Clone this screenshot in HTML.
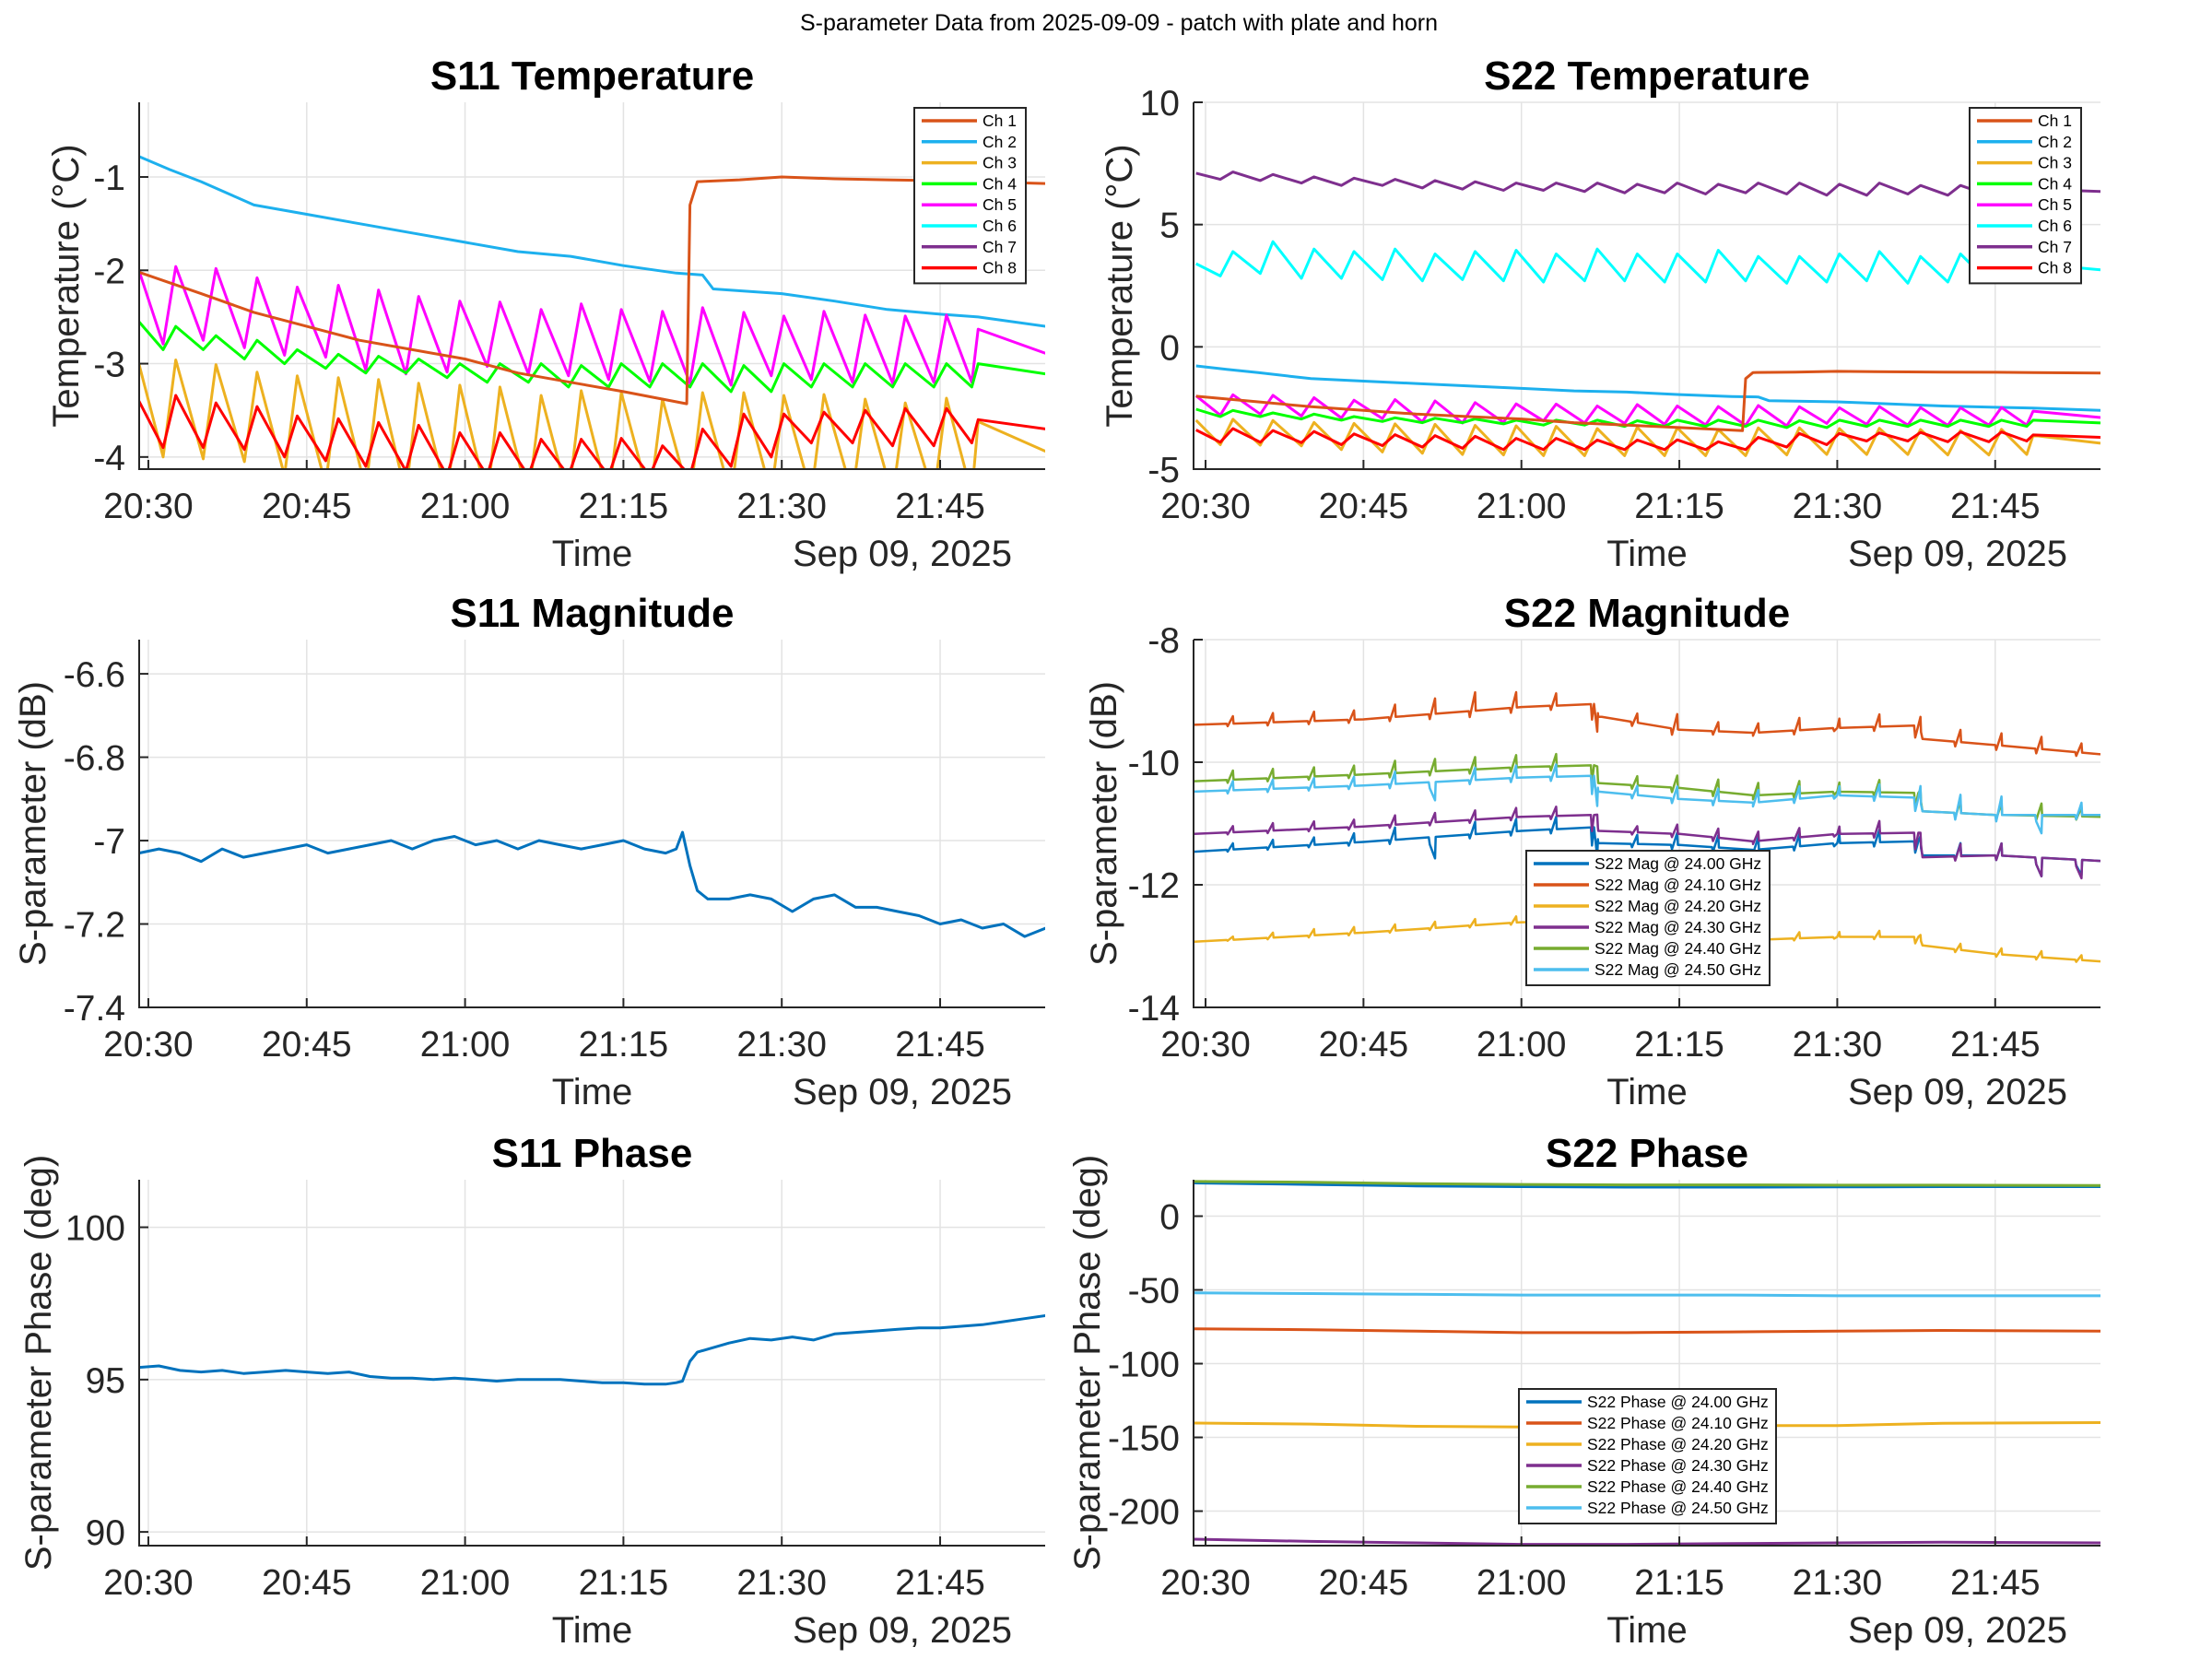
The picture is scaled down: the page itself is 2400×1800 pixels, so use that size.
<!DOCTYPE html>
<html><head><meta charset="utf-8"><title>S-parameter Data</title>
<style>
html,body{margin:0;padding:0;background:#fff;}
svg{display:block;font-family:"Liberation Sans",Arial,sans-serif;}
</style></head>
<body>
<svg id="fig" width="2400" height="1800" viewBox="0 0 2400 1800" xmlns="http://www.w3.org/2000/svg">
<rect x="0" y="0" width="2400" height="1800" fill="#fff"/>
<text x="1214" y="33" font-size="25" text-anchor="middle" fill="#000">S-parameter Data from 2025-09-09 - patch with plate and horn</text>
</svg>
<script>
// ---------- shared time axis ----------
const xTickVals = [0, 15, 30, 45, 60, 75];
const xTickLabels = ["20:30", "20:45", "21:00", "21:15", "21:30", "21:45"];
// ---------- temperature data (minutes after 20:30) ----------
const tTemp = [-0.9, 1.4,2.6, 5.2,6.4, 9.1,10.3, 12.9,14.1, 16.8,18.0, 20.6,21.8, 24.4,25.6, 28.3,29.5, 32.1,33.3, 36.0,37.2, 39.8,41.0, 43.6,44.8, 47.5,48.7, 51.3,52.5, 55.2,56.4, 59.0,60.2, 62.8,64.0, 66.7,67.9, 70.5,71.7, 74.4,75.6, 78.0, 78.6, 85];
const ch3 = [-3.0, -4.0,-2.96, -4.02,-3.01, -4.05,-3.09, -4.2,-3.13, -4.3,-3.15, -4.35,-3.17, -4.4,-3.21, -4.42,-3.23, -4.45,-3.25, -4.45,-3.34, -4.45,-3.29, -4.45,-3.31, -4.45,-3.38, -4.45,-3.31, -4.42,-3.31, -4.4,-3.34, -4.4,-3.33, -4.4,-3.38, -4.42,-3.42, -4.42,-3.37, -4.4, -3.62, -3.94];
const ch4 = [-2.55, -2.85,-2.6, -2.85,-2.7, -2.95,-2.75, -3.0,-2.85, -3.05,-2.9, -3.1,-2.92, -3.1,-2.95, -3.15,-3.0, -3.2,-3.0, -3.2,-3.0, -3.25,-3.02, -3.25,-3.0, -3.25,-3.0, -3.25,-3.0, -3.3,-3.02, -3.3,-3.0, -3.25,-3.0, -3.25,-3.0, -3.25,-3.0, -3.25,-3.0, -3.25, -3.0, -3.11];
const ch5 = [-2.0, -2.79,-1.96, -2.75,-1.98, -2.83,-2.08, -2.91,-2.18, -2.93,-2.16, -3.07,-2.21, -3.11,-2.28, -3.09,-2.33, -3.03,-2.34, -3.11,-2.42, -3.13,-2.36, -3.17,-2.42, -3.19,-2.44, -3.21,-2.40, -3.23,-2.45, -3.13,-2.49, -3.17,-2.44, -3.2,-2.48, -3.21,-2.49, -3.2,-2.48, -3.2, -2.63, -2.89];
const ch6 = [3.4, 2.9,3.9, 3.0,4.3, 2.8,4.0, 2.8,3.9, 2.75,4.0, 2.7,3.8, 2.75,3.9, 2.7,3.95, 2.65,3.8, 2.7,4.0, 2.7,3.8, 2.65,3.8, 2.65,3.95, 2.7,3.7, 2.6,3.7, 2.65,3.8, 2.7,3.9, 2.6,3.7, 2.65,3.8, 2.65,3.7, 2.7, 3.4, 3.15];
const ch7 = [7.1, 6.85,7.15, 6.8,7.05, 6.7,6.95, 6.6,6.9, 6.6,6.85, 6.5,6.8, 6.45,6.75, 6.4,6.7, 6.4,6.7, 6.35,6.7, 6.3,6.65, 6.3,6.7, 6.25,6.65, 6.3,6.7, 6.25,6.7, 6.2,6.65, 6.2,6.7, 6.25,6.6, 6.2,6.6, 6.2,6.6, 6.2, 6.45, 6.35];
const ch8 = [-3.4, -3.9,-3.34, -3.9,-3.42, -3.92,-3.46, -4.0,-3.56, -4.04,-3.59, -4.1,-3.63, -4.15,-3.66, -4.2,-3.74, -4.2,-3.74, -4.2,-3.81, -4.2,-3.81, -4.2,-3.80, -4.2,-3.88, -4.2,-3.70, -4.1,-3.54, -4.0,-3.54, -3.85,-3.52, -3.85,-3.50, -3.88,-3.48, -3.88,-3.48, -3.85, -3.6, -3.7];
const tCh1 = [-0.9, 5, 10, 15, 20, 25, 30, 35, 40, 45, 51.0, 51.3, 52, 56, 60, 65, 70, 75, 78.6, 85];
const ch1 = [-2.02, -2.25, -2.45, -2.6, -2.75, -2.85, -2.95, -3.1, -3.2, -3.3, -3.43, -1.3, -1.05, -1.03, -1.0, -1.02, -1.03, -1.04, -1.05, -1.07];
const tCh2 = [-0.9, 2, 5, 8, 10, 15, 20, 25, 30, 35, 40, 45, 50, 52.5, 53.5, 60, 65, 70, 75, 78.6, 85];
const ch2 = [-0.78, -0.92, -1.05, -1.2, -1.3, -1.4, -1.5, -1.6, -1.7, -1.8, -1.85, -1.95, -2.03, -2.05, -2.2, -2.25, -2.33, -2.42, -2.47, -2.5, -2.6];
// ---------- S11 ----------
const tS11 = [-0.9,1,3,5,7,9,11,13,15,17,19,21,23,25,27,29,31,33,35,37,39,41,43,45,47,49,50,50.6,51.3,52,53,55,57,59,61,63,65,67,69,71,73,75,77,79,81,83,85];
const s11Mag = [-7.03,-7.02,-7.03,-7.05,-7.02,-7.04,-7.03,-7.02,-7.01,-7.03,-7.02,-7.01,-7.0,-7.02,-7.0,-6.99,-7.01,-7.0,-7.02,-7.0,-7.01,-7.02,-7.01,-7.0,-7.02,-7.03,-7.02,-6.98,-7.06,-7.12,-7.14,-7.14,-7.13,-7.14,-7.17,-7.14,-7.13,-7.16,-7.16,-7.17,-7.18,-7.2,-7.19,-7.21,-7.2,-7.23,-7.21];
const s11Phase = [95.4,95.45,95.3,95.25,95.3,95.2,95.25,95.3,95.25,95.2,95.25,95.1,95.05,95.05,95.0,95.05,95.0,94.95,95.0,95.0,95.0,94.95,94.9,94.9,94.85,94.85,94.9,94.95,95.6,95.9,96.0,96.2,96.35,96.3,96.4,96.3,96.5,96.55,96.6,96.65,96.7,96.7,96.75,96.8,96.9,97.0,97.1];
// ---------- S22 magnitude ----------
const tBase = [-1.1, 15, 30, 36.9, 37.3, 45, 52, 60, 67.7, 68.1, 75, 85];
const mag2400 = [-11.46,-11.3,-11.12,-11.06,-11.32,-11.35,-11.43,-11.32,-11.29,-11.52,-11.52,-11.61];
const mag2410 = [-9.39,-9.3,-9.1,-9.05,-9.25,-9.47,-9.52,-9.44,-9.4,-9.62,-9.72,-9.87];
const mag2420 = [-12.93,-12.78,-12.61,-12.6,-12.75,-12.78,-12.9,-12.85,-12.85,-12.99,-13.13,-13.25];
const mag2430 = [-11.17,-11.05,-10.89,-10.86,-11.12,-11.17,-11.29,-11.17,-11.15,-11.55,-11.52,-11.61];
const mag2440 = [-10.31,-10.2,-10.08,-10.05,-10.34,-10.42,-10.54,-10.48,-10.5,-10.8,-10.86,-10.89];
const mag2450 = [-10.48,-10.38,-10.25,-10.22,-10.48,-10.6,-10.66,-10.54,-10.58,-10.8,-10.86,-10.86];
const tSpike = [2.6,6.4,10.3,14.1,18.0,21.8,25.6,29.5,33.3,37.2,41.0,44.8,48.7,52.5,56.4,60.2,64.0,67.9,71.7,75.6,79.4,83.2];
const spk2400 = [.1,.12,.12,.15,.2,-.35,.2,.2,.2,-.3,.15,.2,.2,.2,.2,.15,.2,.2,.2,.2,-.3,-.25];
const spk2410 = [.12,.15,.15,.15,.2,.25,.3,.25,.2,-.3,.15,.25,.15,.15,.2,.15,.2,.25,.2,.2,.2,.15];
const spk2420 = [.05,.08,.1,.1,.1,.1,.1,.1,.1,.1,.08,.1,.1,.1,.1,.08,.1,.1,.1,.1,.1,.08];
const spk2430 = [.1,.12,.12,.12,.15,.15,.15,.15,.15,.2,.1,.15,.15,.15,.15,.12,.2,.2,.2,.2,-.3,-.3];
const spk2440 = [.15,.15,.15,.15,.2,.2,.2,.2,.2,.2,.15,.2,.2,.2,.2,.15,.2,.2,.2,.2,.2,.15];
const spk2450 = [.15,.15,.15,.15,.2,-.3,.2,.2,.2,-.3,.15,.2,.2,.2,.2,.15,.2,.3,.3,.3,-.3,.2];
// ---------- S22 phase ----------
const tPh = [-1.1, 10, 20, 30, 40, 50, 60, 70, 85];
const ph2400 = [22.5,21.5,20.5,20,19.7,19.7,19.8,20,20];
const ph2410 = [-76.4,-77,-78,-79,-79,-78.5,-78,-77.5,-78];
const ph2420 = [-140.3,-141,-142.5,-143,-142.5,-142,-142,-140.5,-140];
const ph2430 = [-219,-220.5,-221.5,-222.5,-222.5,-222,-221.5,-221,-221.5];
const ph2440 = [23.5,23,22,21.5,21.2,21.2,21,21,20.8];
const ph2450 = [-52,-52.5,-53,-53.5,-53.5,-53.5,-54,-54,-54];

const NS = "http://www.w3.org/2000/svg";
const svg = document.getElementById('fig');
const C = {blue:"#0072BD",orange:"#D95319",yellow:"#EDB120",purple:"#7E2F8E",green:"#77AC30",lblue:"#4DBEEE"};
const CH = ["#D95319","#1DB0EE","#EDB120","#00FF00","#FF00FF","#00FFFF","#7E2F8E","#FF0000"];

function mk(tag, attrs, parent){
  const e = document.createElementNS(NS, tag);
  for (const k in attrs) e.setAttribute(k, attrs[k]);
  (parent||svg).appendChild(e);
  return e;
}
function interp(ts, vs, t){
  if (t <= ts[0]) return vs[0];
  for (let i=1;i<ts.length;i++){ if (t <= ts[i]) { const f=(t-ts[i-1])/(ts[i]-ts[i-1]); return vs[i-1]+f*(vs[i]-vs[i-1]); } }
  return vs[vs.length-1];
}

let clipId = 0;
function makeAxes(o){
  const g = mk('g', {});
  
  
  const X = t => o.x0 + (t - o.xd[0])/(o.xd[1]-o.xd[0])*(o.x1-o.x0);
  const Y = v => o.y1 - (v - o.yd[0])/(o.yd[1]-o.yd[0])*(o.y1-o.y0);
  xTickVals.forEach(t => {
    const l = mk('line', {x1:X(t),x2:X(t),y1:o.y0,y2:o.y1,stroke:"#e3e3e3","stroke-width":1.5}, g);
    
    
  });
  o.yt.forEach(v => {
    const l = mk('line', {x1:o.x0,x2:o.x1,y1:Y(v),y2:Y(v),stroke:"#e3e3e3","stroke-width":1.5}, g);
    
    
  });
  const id = 'clip'+(clipId++);
  const cp = mk('clipPath', {id:id}, g);
  mk('rect', {x:o.x0,y:o.y0,width:o.x1-o.x0,height:o.y1-o.y0}, cp);
  const pg = mk('g', {'clip-path':'url(#'+id+')'}, g);
  const ax = {X, Y, pg, g, o};
  ax.finish = function(){
    const a = mk('g', {}, g);
    
    
    mk('line', {x1:o.x0,x2:o.x0,y1:o.y0,y2:o.y1+1,stroke:"#262626","stroke-width":2}, a);
    mk('line', {x1:o.x0-1,x2:o.x1,y1:o.y1,y2:o.y1,stroke:"#262626","stroke-width":2}, a);
    xTickVals.forEach((t,i) => {
      mk('line', {x1:X(t),x2:X(t),y1:o.y1,y2:o.y1-10,stroke:"#262626","stroke-width":2}, a);
      const tx = mk('text', {x:X(t),y:o.y1+53,"font-size":39,"text-anchor":"middle",fill:"#262626"}, g);
      tx.textContent = xTickLabels[i];
      
      
    });
    o.yt.forEach((v,i) => {
      mk('line', {x1:o.x0,x2:o.x0+10,y1:Y(v),y2:Y(v),stroke:"#262626","stroke-width":2}, a);
      const tx = mk('text', {x:o.x0-15,y:Y(v)+14,"font-size":39,"text-anchor":"end",fill:"#262626"}, g);
      tx.textContent = o.ytl[i];
      
      
    });
    const xt = mk('text', {x:(o.x0+o.x1)/2,y:o.y1+105,"font-size":40,"text-anchor":"middle",fill:"#262626"}, g);
    xt.textContent = "Time";
    
    
    const dt = mk('text', {x:o.x1-36,y:o.y1+105,"font-size":40,"text-anchor":"end",fill:"#262626"}, g);
    dt.textContent = "Sep 09, 2025";
    
    
    const yl = mk('text', {x:o.ylx,y:(o.y0+o.y1)/2,"font-size":40,"text-anchor":"middle",fill:"#262626",transform:`rotate(-90 ${o.ylx} ${(o.y0+o.y1)/2})`}, g);
    yl.textContent = o.ylabel;
    
    
    const tt = mk('text', {x:(o.x0+o.x1)/2,y:o.y0-14,"font-size":44,"font-weight":"bold","text-anchor":"middle",fill:"#000"}, g);
    tt.textContent = o.title;
    
    
  };
  return ax;
}
function line(ax, ts, vs, color, w, name){
  const d = ts.map((t,i)=>(i?'L':'M')+ax.X(t).toFixed(1)+' '+ax.Y(vs[i]).toFixed(1)).join(' ');
  const p = mk('path', {d:d, fill:'none', stroke:color, 'stroke-width':w, 'stroke-linejoin':'round'}, ax.pg);
  
  
}
function spikeLine(ax, base, spk, color, name){
  const pts = [];
  tBase.forEach((t,i)=>pts.push([t, base[i]]));
  tSpike.forEach((ts,i)=>{
    const b = interp(tBase, base, ts), h = spk[i];
    pts.push([ts-0.6, interp(tBase, base, ts-0.6)]);
    pts.push([ts-0.5, b - 0.35*Math.abs(h)]);
    pts.push([ts, b + h]);
    pts.push([ts+0.06, b]);
  });
  pts.sort((a,b)=>a[0]-b[0]);
  line(ax, pts.map(p=>p[0]), pts.map(p=>p[1]), color, 2.5, name);
}
function legend(x, y, w, rowH, items, name){
  const g = mk('g', {});
  
  
  mk('rect', {x:x,y:y,width:w,height:rowH*items.length+8,fill:'#fff',stroke:'#262626','stroke-width':2}, g);
  items.forEach((it,i)=>{
    const cy = y + 14 + rowH*i;
    const e = mk('g', {}, g);
    
    
    mk('line', {x1:x+8,x2:x+68,y1:cy,y2:cy,stroke:it[1],'stroke-width':3.5}, e);
    const t = mk('text', {x:x+74,y:cy+6,'font-size':17.5,fill:'#000'}, e);
    t.textContent = it[0];
  });
}

const LX = [151, 1134], RX = [1295, 2279];
const ROWS = [[111,509],[694,1093],[1280,1677]];
const xdL = [-0.87, 84.95], xdR = [-1.14, 85.0];

const a1 = makeAxes({name:'s11-temperature-chart',x0:LX[0],x1:LX[1],y0:ROWS[0][0],y1:ROWS[0][1],xd:xdL,yd:[-4.13,-0.2],yt:[-4,-3,-2,-1],ytl:["-4","-3","-2","-1"],ylabel:"Temperature (°C)",ylx:85,title:"S11 Temperature"});
const a2 = makeAxes({name:'s22-temperature-chart',x0:RX[0],x1:RX[1],y0:ROWS[0][0],y1:ROWS[0][1],xd:xdR,yd:[-5,10],yt:[-5,0,5,10],ytl:["-5","0","5","10"],ylabel:"Temperature (°C)",ylx:1228,title:"S22 Temperature"});
[a1,a2].forEach(ax=>{
  line(ax, tTemp, ch6, CH[5], 3, 'series-ch6');
  line(ax, tTemp, ch7, CH[6], 3, 'series-ch7');
  line(ax, tCh2, ch2, CH[1], 3, 'series-ch2');
  line(ax, tTemp, ch3, CH[2], 3, 'series-ch3');
  line(ax, tTemp, ch5, CH[4], 3, 'series-ch5');
  line(ax, tTemp, ch4, CH[3], 3, 'series-ch4');
  line(ax, tCh1, ch1, CH[0], 3, 'series-ch1');
  line(ax, tTemp, ch8, CH[7], 3, 'series-ch8');
  ax.finish();
});
const chItems = ["Ch 1","Ch 2","Ch 3","Ch 4","Ch 5","Ch 6","Ch 7","Ch 8"].map((n,i)=>[n,CH[i]]);
legend(992, 117, 121, 22.8, chItems, 's11-temperature-legend');
legend(2137, 117, 121, 22.8, chItems, 's22-temperature-legend');

const a3 = makeAxes({name:'s11-magnitude-chart',x0:LX[0],x1:LX[1],y0:ROWS[1][0],y1:ROWS[1][1],xd:xdL,yd:[-7.4,-6.518],yt:[-7.4,-7.2,-7,-6.8,-6.6],ytl:["-7.4","-7.2","-7","-6.8","-6.6"],ylabel:"S-parameter (dB)",ylx:49,title:"S11 Magnitude"});
line(a3, tS11, s11Mag, C.blue, 3, 's11-magnitude-line');
a3.finish();

const a4 = makeAxes({name:'s22-magnitude-chart',x0:RX[0],x1:RX[1],y0:ROWS[1][0],y1:ROWS[1][1],xd:xdR,yd:[-14,-8],yt:[-14,-12,-10,-8],ytl:["-14","-12","-10","-8"],ylabel:"S-parameter (dB)",ylx:1211,title:"S22 Magnitude"});
spikeLine(a4, mag2400, spk2400, C.blue, 'mag-24-00');
spikeLine(a4, mag2410, spk2410, C.orange, 'mag-24-10');
spikeLine(a4, mag2420, spk2420, C.yellow, 'mag-24-20');
spikeLine(a4, mag2430, spk2430, C.purple, 'mag-24-30');
spikeLine(a4, mag2440, spk2440, C.green, 'mag-24-40');
spikeLine(a4, mag2450, spk2450, C.lblue, 'mag-24-50');
a4.finish();
legend(1656, 923, 264, 23, [["S22 Mag @ 24.00 GHz",C.blue],["S22 Mag @ 24.10 GHz",C.orange],["S22 Mag @ 24.20 GHz",C.yellow],["S22 Mag @ 24.30 GHz",C.purple],["S22 Mag @ 24.40 GHz",C.green],["S22 Mag @ 24.50 GHz",C.lblue]], 's22-magnitude-legend');

const a5 = makeAxes({name:'s11-phase-chart',x0:LX[0],x1:LX[1],y0:ROWS[2][0],y1:ROWS[2][1],xd:xdL,yd:[89.55,101.56],yt:[90,95,100],ytl:["90","95","100"],ylabel:"S-parameter Phase (deg)",ylx:55,title:"S11 Phase"});
line(a5, tS11, s11Phase, C.blue, 3, 's11-phase-line');
a5.finish();

const a6 = makeAxes({name:'s22-phase-chart',x0:RX[0],x1:RX[1],y0:ROWS[2][0],y1:ROWS[2][1],xd:xdR,yd:[-223.4,24.7],yt:[-200,-150,-100,-50,0],ytl:["-200","-150","-100","-50","0"],ylabel:"S-parameter Phase (deg)",ylx:1193,title:"S22 Phase"});
line(a6, tPh, ph2400, C.blue, 3, 'phase-24-00');
line(a6, tPh, ph2410, C.orange, 3, 'phase-24-10');
line(a6, tPh, ph2420, C.yellow, 3, 'phase-24-20');
line(a6, tPh, ph2430, C.purple, 3, 'phase-24-30');
line(a6, tPh, ph2440, C.green, 3, 'phase-24-40');
line(a6, tPh, ph2450, C.lblue, 3, 'phase-24-50');
a6.finish();
legend(1648, 1507, 279, 23, [["S22 Phase @ 24.00 GHz",C.blue],["S22 Phase @ 24.10 GHz",C.orange],["S22 Phase @ 24.20 GHz",C.yellow],["S22 Phase @ 24.30 GHz",C.purple],["S22 Phase @ 24.40 GHz",C.green],["S22 Phase @ 24.50 GHz",C.lblue]], 's22-phase-legend');
</script>
</body></html>
